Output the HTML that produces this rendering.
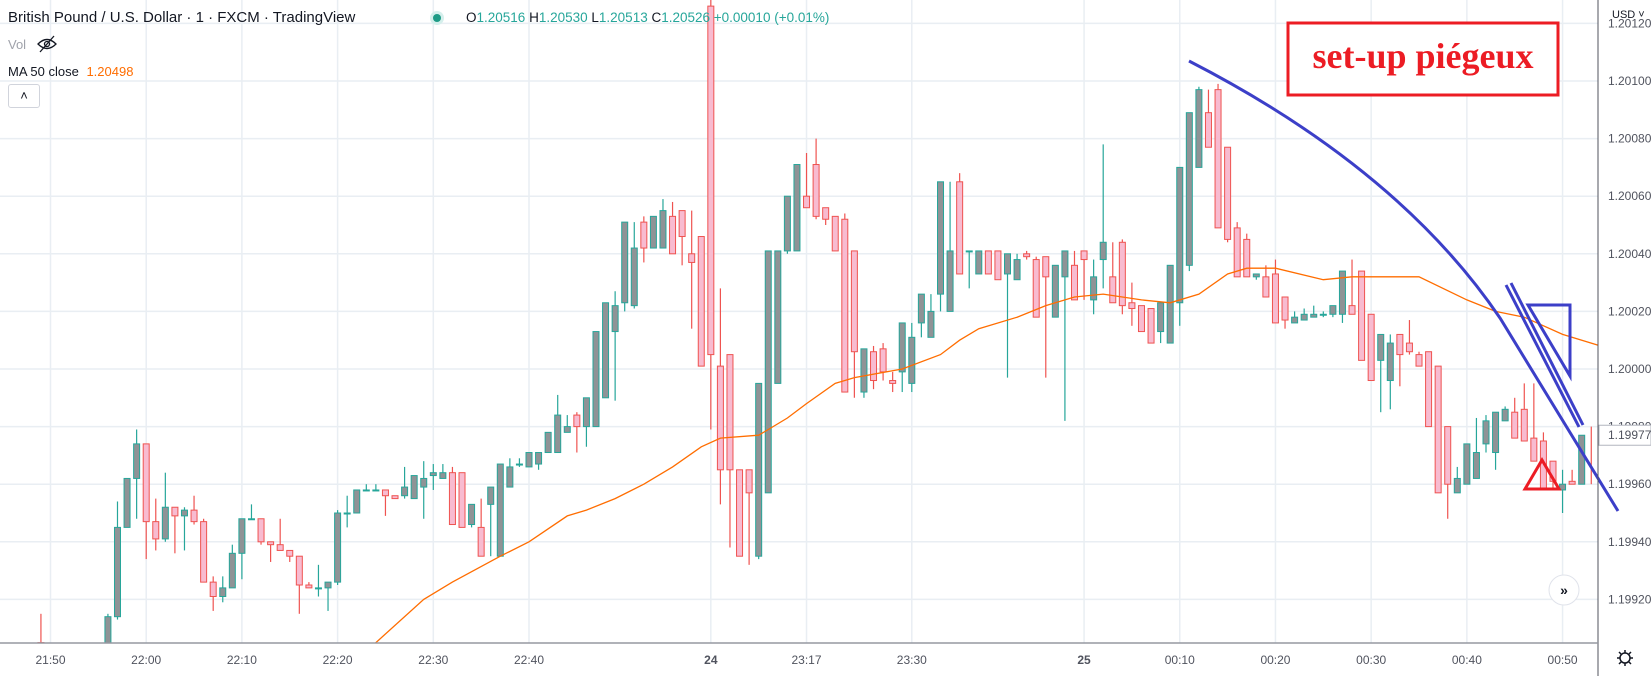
<!DOCTYPE html>
<html><head><meta charset="utf-8"><title>GBPUSD 1m</title>
<style>
html,body{margin:0;padding:0;background:#fff;overflow:hidden;width:1651px;height:676px;}
body{position:relative;font-family:"Liberation Sans",sans-serif;}
svg{position:absolute;left:0;top:0;display:block;}
.hdr{position:absolute;white-space:nowrap;}
</style></head>
<body>
<svg id="chart" width="1651" height="676">
  <defs><clipPath id="plotclip"><rect x="0" y="0" width="1598" height="643"/></clipPath></defs>
  <g id="grid"></g>
  <g id="candles" clip-path="url(#plotclip)"></g>
  <g id="ma" clip-path="url(#plotclip)"></g>
  <g id="yaxis"></g>
  <g id="xaxis"></g>
  <g>
    <rect x="1288" y="23" width="270" height="72" fill="#fff" stroke="#ec1c24" stroke-width="3"/>
    <text x="1423" y="68" text-anchor="middle" font-family="Liberation Serif, serif" font-weight="bold" font-size="36" fill="#ec1c24">set-up piégeux</text>
    <path d="M1189,61 C1300,118 1420,200 1500,318 L1618,511" fill="none" stroke="#3c3fc8" stroke-width="3"/>
    <line x1="1506" y1="285" x2="1579" y2="427" stroke="#3c3fc8" stroke-width="3"/>
    <line x1="1511" y1="283" x2="1583" y2="425" stroke="#3c3fc8" stroke-width="3"/>
    <polygon points="1528,305 1570,305 1570,376" fill="none" stroke="#3c3fc8" stroke-width="3"/>
    <polygon points="1525,489 1542,460 1559,489" fill="none" stroke="#ec1c24" stroke-width="3"/>
  </g>
  <line x1="1598" y1="0" x2="1598" y2="676" stroke="#50535e" stroke-width="1"/>
  <line x1="0" y1="643" x2="1598" y2="643" stroke="#9598a1" stroke-width="1.5"/>
  <g>
    <circle cx="1564" cy="590" r="15" fill="#fff" stroke="#e0e3eb"/>
    <text x="1564" y="595" text-anchor="middle" font-size="14" font-weight="bold" fill="#131722">»</text>
  </g>
  <text x="1612" y="18" font-size="11" fill="#131722">USD ˅</text>
  <g>
    <path d="M38,44 Q47,35 56,44 Q47,53 38,44Z" fill="none" stroke="#131722" stroke-width="1.3"/>
    <circle cx="47" cy="44" r="2.5" fill="none" stroke="#131722" stroke-width="1.3"/>
    <line x1="40" y1="52" x2="54" y2="36" stroke="#131722" stroke-width="1.3"/>
  </g>
  <g>
    <circle cx="1625" cy="658" r="5" fill="none" stroke="#131722" stroke-width="1.5"/>
    <path d="M1625,650v3M1625,663v3M1617,658h3M1630,658h3M1619,652l2,2M1629,662l2,2M1619,664l2,-2M1629,654l2,-2" stroke="#131722" stroke-width="1.5"/>
  </g>
</svg>

<div class="hdr" style="left:8px;top:9px;font-size:15px;color:#131722;">British Pound / U.S. Dollar · 1 · FXCM · TradingView</div>
<div class="hdr" style="left:430px;top:11px;width:14px;height:14px;border-radius:7px;background:#d5efec;"><div style="margin:3px;width:8px;height:8px;border-radius:4px;background:#1e9b86;"></div></div>
<div class="hdr" style="left:466px;top:10px;font-size:13.5px;color:#26a69a;"><span style="color:#131722">O</span>1.20516 <span style="color:#131722">H</span>1.20530 <span style="color:#131722">L</span>1.20513 <span style="color:#131722">C</span>1.20526 +0.00010 (+0.01%)</div>
<div class="hdr" style="left:8px;top:37px;font-size:13px;color:#a0a3ab;">Vol</div>
<div class="hdr" style="left:8px;top:64px;font-size:13px;color:#131722;">MA 50 close <span style="color:#ff6d00;margin-left:4px">1.20498</span></div>
<div class="hdr" style="left:8px;top:84px;width:30px;height:22px;border:1px solid #d1d4dc;border-radius:3px;background:#fff;text-align:center;font-size:13px;line-height:22px;color:#131722;">˄</div>

<script>
const startIndex = -1;
const opens = [1.19905,1.19900,1.19898,1.19897,1.19900,1.19901,1.19898,1.19902,1.19914,1.19945,1.19962,1.19974,1.19947,1.19941,1.19952,1.19949,1.19951,1.19947,1.19926,1.19921,1.19924,1.19936,1.19948,1.19948,1.19940,1.19939,1.19937,1.19935,1.19925,1.19924,1.19924,1.19926,1.19950,1.19950,1.19958,1.19958,1.19958,1.19956,1.19956,1.19955,1.19959,1.19963,1.19962,1.19964,1.19964,1.19946,1.19945,1.19953,1.19935,1.19959,1.19967,1.19966,1.19967,1.19971,1.19971,1.19978,1.19984,1.19980,1.19980,1.19990,1.20013,1.20023,1.20022,1.20051,1.20042,1.20042,1.20053,1.20055,1.20040,1.20046,1.20126,1.20001,1.20005,1.19965,1.19965,1.19935,1.19957,1.19995,1.20041,1.20041,1.20060,1.20071,1.20056,1.20053,1.20052,1.20041,1.19992,1.20006,1.20007,1.19996,1.19999,1.19995,1.20016,1.20011,1.20026,1.20020,1.20065,1.20041,1.20033,1.20041,1.20041,1.20033,1.20031,1.20040,1.20038,1.20039,1.20018,1.20032,1.20036,1.20041,1.20024,1.20038,1.20032,1.20044,1.20023,1.20022,1.20021,1.20013,1.20009,1.20023,1.20036,1.20070,1.20089,1.20097,1.20077,1.20049,1.20045,1.20032,1.20032,1.20033,1.20025,1.20016,1.20017,1.20018,1.20019,1.20019,1.20019,1.20022,1.20034,1.20019,1.20003,1.19996,1.20012,1.20009,1.20005,1.20006,1.20001,1.19980,1.19957,1.19960,1.19962,1.19974,1.19971,1.19982,1.19985,1.19986,1.19976,1.19975,1.19968,1.19958,1.19961,1.19960,1.19960];
const highs = [1.19915,1.19903,1.19902,1.19901,1.19904,1.19904,1.19903,1.19915,1.19954,1.19962,1.19979,1.19974,1.19955,1.19964,1.19952,1.19952,1.19956,1.19948,1.19928,1.19928,1.19939,1.19948,1.19953,1.19948,1.19940,1.19948,1.19937,1.19935,1.19926,1.19932,1.19926,1.19951,1.19956,1.19958,1.19960,1.19960,1.19958,1.19956,1.19966,1.19961,1.19968,1.19967,1.19967,1.19966,1.19964,1.19946,1.19955,1.19953,1.19959,1.19969,1.19969,1.19969,1.19971,1.19973,1.19991,1.19984,1.19985,1.19980,1.19990,1.20014,1.20027,1.20037,1.20051,1.20053,1.20045,1.20059,1.20058,1.20055,1.20055,1.20046,1.20135,1.20028,1.20005,1.19965,1.19965,1.19981,1.19995,1.20041,1.20041,1.20062,1.20075,1.20080,1.20056,1.20053,1.20054,1.20041,1.20006,1.20008,1.20009,1.19999,1.19999,1.20016,1.20016,1.20026,1.20026,1.20065,1.20068,1.20041,1.20041,1.20041,1.20041,1.20040,1.20040,1.20041,1.20039,1.20039,1.20032,1.20041,1.20041,1.20041,1.20038,1.20078,1.20044,1.20045,1.20030,1.20022,1.20021,1.20013,1.20023,1.20037,1.20075,1.20098,1.20097,1.20099,1.20077,1.20051,1.20047,1.20033,1.20036,1.20038,1.20025,1.20020,1.20021,1.20022,1.20020,1.20020,1.20024,1.20038,1.20034,1.20019,1.20003,1.20012,1.20012,1.20017,1.20006,1.20006,1.20001,1.19980,1.19966,1.19962,1.19983,1.19984,1.19982,1.19987,1.19990,1.19995,1.19995,1.19978,1.19968,1.19965,1.19965,1.19968,1.19980];
const lows = [1.19897,1.19896,1.19895,1.19895,1.19897,1.19896,1.19896,1.19897,1.19913,1.19945,1.19948,1.19934,1.19937,1.19940,1.19936,1.19937,1.19946,1.19926,1.19916,1.19919,1.19924,1.19927,1.19948,1.19939,1.19933,1.19937,1.19933,1.19915,1.19924,1.19921,1.19916,1.19925,1.19945,1.19950,1.19958,1.19958,1.19949,1.19956,1.19955,1.19955,1.19948,1.19958,1.19962,1.19964,1.19946,1.19945,1.19945,1.19935,1.19935,1.19959,1.19966,1.19966,1.19965,1.19971,1.19971,1.19978,1.19971,1.19973,1.19980,1.19990,1.19989,1.20020,1.20021,1.20037,1.20042,1.20042,1.20050,1.20036,1.20014,1.20028,1.19979,1.19953,1.19938,1.19965,1.19932,1.19934,1.19957,1.19995,1.20040,1.20041,1.20060,1.20052,1.20050,1.20051,1.20041,1.19990,1.19990,1.19993,1.19996,1.19992,1.19992,1.19992,1.20011,1.20011,1.20020,1.20020,1.20041,1.20028,1.20033,1.20041,1.20033,1.19997,1.20031,1.20038,1.20038,1.19997,1.20018,1.19982,1.20034,1.20024,1.20019,1.20028,1.20032,1.20019,1.20015,1.20021,1.20012,1.20009,1.20009,1.20015,1.20034,1.20070,1.20086,1.20077,1.20044,1.20045,1.20032,1.20031,1.20032,1.20025,1.20014,1.20016,1.20017,1.20018,1.20018,1.20018,1.20016,1.20022,1.20016,1.19998,1.19985,1.19986,1.19994,1.20005,1.20004,1.19991,1.19973,1.19948,1.19957,1.19960,1.19962,1.19971,1.19965,1.19982,1.19980,1.19976,1.19975,1.19968,1.19958,1.19950,1.19960,1.19960,1.19960];
const closes = [1.19898,1.19898,1.19897,1.19900,1.19901,1.19898,1.19902,1.19914,1.19945,1.19962,1.19974,1.19947,1.19941,1.19952,1.19949,1.19951,1.19947,1.19926,1.19921,1.19924,1.19936,1.19948,1.19948,1.19940,1.19939,1.19937,1.19935,1.19925,1.19924,1.19924,1.19926,1.19950,1.19950,1.19958,1.19958,1.19958,1.19956,1.19955,1.19959,1.19963,1.19962,1.19964,1.19964,1.19946,1.19945,1.19953,1.19935,1.19959,1.19967,1.19966,1.19967,1.19971,1.19971,1.19978,1.19984,1.19980,1.19980,1.19990,1.20013,1.20023,1.20022,1.20051,1.20042,1.20042,1.20053,1.20055,1.20040,1.20046,1.20037,1.20001,1.20005,1.19965,1.19965,1.19935,1.19957,1.19995,1.20041,1.20041,1.20060,1.20071,1.20056,1.20053,1.20052,1.20041,1.19992,1.20006,1.20007,1.19996,1.19999,1.19995,1.20016,1.20011,1.20026,1.20020,1.20065,1.20041,1.20033,1.20041,1.20041,1.20033,1.20031,1.20040,1.20038,1.20039,1.20018,1.20032,1.20036,1.20041,1.20024,1.20038,1.20032,1.20044,1.20023,1.20022,1.20021,1.20013,1.20009,1.20023,1.20036,1.20070,1.20089,1.20097,1.20077,1.20049,1.20045,1.20032,1.20032,1.20033,1.20025,1.20016,1.20017,1.20018,1.20019,1.20019,1.20019,1.20022,1.20034,1.20019,1.20003,1.19996,1.20012,1.20009,1.20005,1.20006,1.20001,1.19980,1.19957,1.19960,1.19962,1.19974,1.19971,1.19982,1.19985,1.19986,1.19976,1.19975,1.19968,1.19958,1.19961,1.19960,1.19960,1.19977];
const maIndex = [30,34,39,42,47,50,54,56,59,62,65,68,70,74,75,77,79,82,84,89,93,95,97,101,104,107,110,114,117,120,123,125,128,133,136,141,143,148,151,154,158,162];
const maValues = [1.19895,1.19905,1.19920,1.19926,1.19935,1.19940,1.19949,1.19951,1.19955,1.19960,1.19966,1.19973,1.19976,1.19977,1.19979,1.19983,1.19988,1.19995,1.19997,1.20000,1.20005,1.20010,1.20014,1.20018,1.20022,1.20025,1.20026,1.20024,1.20023,1.20026,1.20033,1.20035,1.20035,1.20031,1.20032,1.20032,1.20032,1.20024,1.20020,1.20018,1.20012,1.20008];
const priceTicks = [1.2012,1.2010,1.2008,1.2006,1.2004,1.2002,1.2000,1.1998,1.1996,1.1994,1.1992];
const timeTickIndex = [0,10,20,30,40,50,69,79,90,108,118,128,138,148,158];
const timeTickLabels = ["21:50","22:00","22:10","22:20","22:30","22:40","24","23:17","23:30","25","00:10","00:20","00:30","00:40","00:50"];
const lastPrice = 1.19977;

const NS = "http://www.w3.org/2000/svg";
function xScale(i){ return 50.5 + 9.57 * i; }
function yScale(p){ return 369 - (p - 1.2) * 288000; }
function mk(tag, attrs, parent){
  const e = document.createElementNS(NS, tag);
  for (const k in attrs) e.setAttribute(k, attrs[k]);
  parent.appendChild(e);
  return e;
}
const grid = document.getElementById('grid');
const yaxis = document.getElementById('yaxis');
const xaxis = document.getElementById('xaxis');
priceTicks.forEach(p => {
  const y = yScale(p);
  const l = mk('line', {x1:0, x2:1598, y1:y, y2:y, stroke:'#e9eef3', 'stroke-width':1.5}, grid);
  
  
  const t = mk('text', {x:1608, y:y+4, 'font-size':12, fill:'#50535e'}, yaxis);
  t.textContent = p.toFixed(5);
  
  
});
timeTickIndex.forEach((idx, k) => {
  const x = xScale(idx);
  const l = mk('line', {x1:x, x2:x, y1:0, y2:643, stroke:'#e9eef3', 'stroke-width':1.5}, grid);
  
  
  const lab = timeTickLabels[k];
  const t = mk('text', {x:x, y:664, 'text-anchor':'middle', 'font-size':12, fill:'#50535e', 'font-weight': lab.length <= 2 ? 'bold' : 'normal'}, xaxis);
  t.textContent = lab;
  
  
});
const cg = document.getElementById('candles');
opens.forEach((o, k) => {
  const i = startIndex + k;
  const c = closes[k], h = highs[k], lo = lows[k];
  const up = c >= o;
  const stroke = up ? '#26a69a' : '#ef5350';
  const fill = up ? '#8f9396' : '#f8bbd0';
  const x = xScale(i);
  const g = mk('g', {}, cg);
  
  
  mk('line', {x1:x, x2:x, y1:yScale(h), y2:yScale(lo), stroke:stroke, 'stroke-width':1.2}, g);
  const yt = yScale(Math.max(o, c)), yb = yScale(Math.min(o, c));
  mk('rect', {x:x-3, y:yt, width:6, height:Math.max(1, yb-yt), fill:fill, stroke:stroke, 'stroke-width':1}, g);
});
const mg = document.getElementById('ma');
const pts = maIndex.map((idx, k) => xScale(idx).toFixed(1) + ',' + yScale(maValues[k]).toFixed(1)).join(' ');
const pl = mk('polyline', {points:pts, fill:'none', stroke:'#ff6d00', 'stroke-width':1.3}, mg);


const ly = yScale(lastPrice);
const lb = mk('rect', {x:1599, y:ly-10, width:52, height:20, fill:'#fff', stroke:'#b2b5be', 'stroke-width':1}, yaxis);


const lt = mk('text', {x:1608, y:ly+4, 'font-size':12, fill:'#50535e'}, yaxis);
lt.textContent = lastPrice.toFixed(5);


</script>
</body></html>
